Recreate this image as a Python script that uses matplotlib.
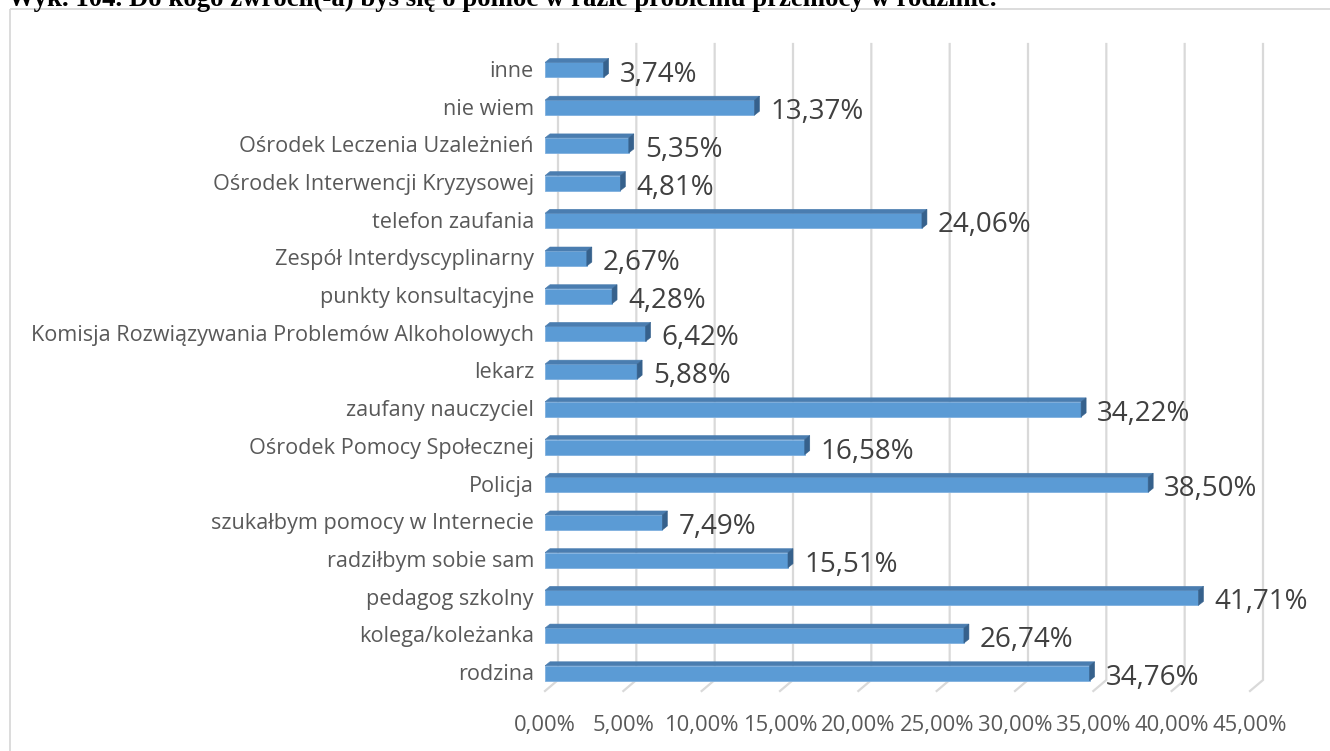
import matplotlib
matplotlib.use("Agg")
import matplotlib.pyplot as plt
from matplotlib.patches import Polygon, Rectangle

categories = [
    "inne",
    "nie wiem",
    "Ośrodek Leczenia Uzależnień",
    "Ośrodek Interwencji Kryzysowej",
    "telefon zaufania",
    "Zespół Interdyscyplinarny",
    "punkty konsultacyjne",
    "Komisja Rozwiązywania Problemów Alkoholowych",
    "lekarz",
    "zaufany nauczyciel",
    "Ośrodek Pomocy Społecznej",
    "Policja",
    "szukałbym pomocy w Internecie",
    "radziłbym sobie sam",
    "pedagog szkolny",
    "kolega/koleżanka",
    "rodzina",
]
values = [3.74, 13.37, 5.35, 4.81, 24.06, 2.67, 4.28, 6.42, 5.88,
          34.22, 16.58, 38.50, 7.49, 15.51, 41.71, 26.74, 34.76]
tick_values = [0, 5, 10, 15, 20, 25, 30, 35, 40, 45]
tick_labels = ["0,00%", "5,00%", "10,00%", "15,00%", "20,00%",
               "25,00%", "30,00%", "35,00%", "40,00%", "45,00%"]
title = "Wyk. 104. Do kogo zwrócił(-a) byś się o pomoc w razie problemu przemocy w rodzinie."

W, H = 1330, 751
fig = plt.figure(figsize=(W / 100, H / 100), dpi=100)
font = "Open Sans"

# outer chart frame
fig.add_artist(Rectangle((10 / W, 1 - 8.5 / H), 1.2, -1.2, transform=fig.transFigure,
                         fill=False, edgecolor="#d9d9d9", linewidth=1.3))

# title (partly outside the top edge)
fig.text(8 / W, 1 - 5.5 / H, title, fontsize=19.3, fontweight="bold",
         family="Liberation Serif", ha="left", va="baseline", color="black")

ax_left, ax_right, ax_top, ax_bottom = 545, 1250, 50, 691
ax = fig.add_axes([ax_left / W, 1 - ax_bottom / H,
                   (ax_right - ax_left) / W, (ax_bottom - ax_top) / H])
xmax = 45
n = len(categories)
ax.set_xlim(0, xmax)
ax.set_ylim(-0.5, n - 0.5)

px_x = (ax_right - ax_left) / xmax       # pixels per percent
px_y = (ax_bottom - ax_top) / n          # pixels per row

# back-wall gridlines with perspective floor segment
wall_dx, wall_dy = 13 / px_x, 11 / px_y
top_y = n - 0.5 + 6 / px_y
for t in tick_values:
    ax.plot([t + wall_dx, t + wall_dx, t], [top_y, -0.5 + wall_dy, -0.5],
            color="#d9d9d9", linewidth=1.6, clip_on=False, zorder=1,
            solid_joinstyle="miter")

# 3D bars
ypos = [n - 1 - i for i in range(n)]
bar_h = 15 / px_y
dx, dy = 5 / px_x, 4 / px_y
front = "#5b9bd5"
top_c = "#4a7db0"
side_c = "#36618c"
for y, v in zip(ypos, values):
    y0, y1 = y - bar_h / 2 - 0.03, y + bar_h / 2 - 0.03
    ax.add_patch(Rectangle((0, y0), v, y1 - y0, facecolor=front,
                           edgecolor="#7fb0df", linewidth=0.6, zorder=3))
    ax.add_patch(Polygon([(0, y1), (v, y1), (v + dx, y1 + dy), (dx, y1 + dy)],
                         closed=True, facecolor=top_c, edgecolor=top_c,
                         linewidth=0.4, zorder=3))
    ax.add_patch(Polygon([(v, y0), (v, y1), (v + dx, y1 + dy), (v + dx, y0 + dy)],
                         closed=True, facecolor=side_c, edgecolor=side_c,
                         linewidth=0.4, zorder=3))
    ax.text(v + dx + 11 / px_x, y - 0.15, f"{v:.2f}%".replace(".", ","),
            fontsize=20, family=font, color="#404040", ha="left", va="center",
            zorder=4)

ax.set_yticks(ypos)
ax.set_yticklabels(categories, fontsize=15.6, family=font, color="#595959")
ax.set_xticks(tick_values)
ax.set_xticklabels(tick_labels, fontsize=15.8, family=font, color="#595959")
ax.tick_params(axis="y", length=0, pad=8)
ax.tick_params(axis="x", length=0, pad=17)
for s in ax.spines.values():
    s.set_visible(False)
ax.set_facecolor("none")

fig.savefig("out.png", dpi=100)
